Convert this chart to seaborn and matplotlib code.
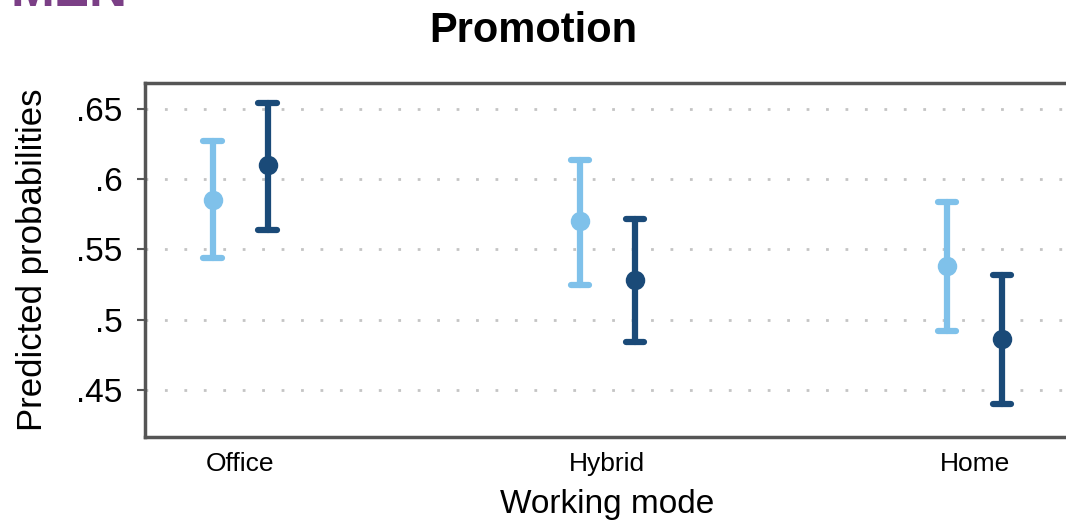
import numpy as np
import pandas as pd
import matplotlib
matplotlib.use('Agg')
import matplotlib.pyplot as plt
import seaborn as sns

# data : point estimate with lower / upper bound of the interval
modes = ['Office', 'Hybrid', 'Home']
groups = ['A', 'B']
est_a = [0.585, 0.570, 0.538]
low_a = [0.544, 0.525, 0.492]
high_a = [0.627, 0.614, 0.584]
est_b = [0.610, 0.528, 0.486]
low_b = [0.564, 0.484, 0.440]
high_b = [0.654, 0.572, 0.532]
yticks = [0.45, 0.5, 0.55, 0.6, 0.65]
yticklabels = ['.45', '.5', '.55', '.6', '.65']

# long table : median of (low, est, high) = est, full range = interval
rows = []
for g, lo, es, hi in [('A', low_a, est_a, high_a), ('B', low_b, est_b, high_b)]:
    for i, m in enumerate(modes):
        for v in (lo[i], es[i], hi[i]):
            rows.append({'mode': m, 'group': g, 'value': v})
df = pd.DataFrame(rows)

sns.set_style('white')
plt.rcParams['font.family'] = ['Liberation Sans', 'DejaVu Sans']
plt.rcParams['text.color'] = 'black'
plt.rcParams['axes.labelcolor'] = 'black'
plt.rcParams['xtick.color'] = 'black'
plt.rcParams['ytick.color'] = 'black'

fig = plt.figure(figsize=(10.66, 5.26), dpi=100)
ax = fig.add_axes([145 / 1066, 89 / 526, 925 / 1066, 354 / 526])

my_palette = ['#7fc1ea', '#1a4a78']
sns.pointplot(data=df, x='mode', y='value', hue='group', order=modes, hue_order=groups,
              estimator='median', errorbar=('pi', 100), dodge=0.15, linestyle='none',
              palette=my_palette, markers='o', markersize=12, capsize=0.05,
              err_kws={'linewidth': 4.5, 'solid_capstyle': 'round'}, ax=ax, legend=False)

ax.set_ylim(0.4164, 0.6686)
ax.set_xlim(-0.259, 2.26)
ax.set_yticks(yticks)
ax.set_yticklabels(yticklabels)
ax.yaxis.grid(True, linestyle=(0, (1, 6)), color='#c4c4c4', linewidth=2)
ax.set_axisbelow(True)
ax.tick_params(axis='y', left=True, length=6, width=1.5, colors='black', labelsize=24, pad=10)
ax.tick_params(axis='y', color='#555555')
ax.tick_params(axis='x', bottom=False, labelsize=19, pad=7)
for s in ['left', 'top', 'bottom']:
    ax.spines[s].set_color('#555555')
    ax.spines[s].set_linewidth(2.5)
ax.spines['right'].set_visible(False)

ax.set_xlabel('Working mode', fontsize=24, labelpad=10)
ax.set_ylabel('Predicted probabilities', fontsize=25, labelpad=20)

fig.text(0.5, 1 - 31 / 526, 'Promotion', ha='center', va='center', fontsize=30, fontweight='bold')
fig.text(10 / 1066, 1 - 6 / 526, 'MEN', ha='left', va='baseline', fontsize=38,
         fontweight='bold', color='#7b3f86')

fig.savefig('out.png', dpi=100)
